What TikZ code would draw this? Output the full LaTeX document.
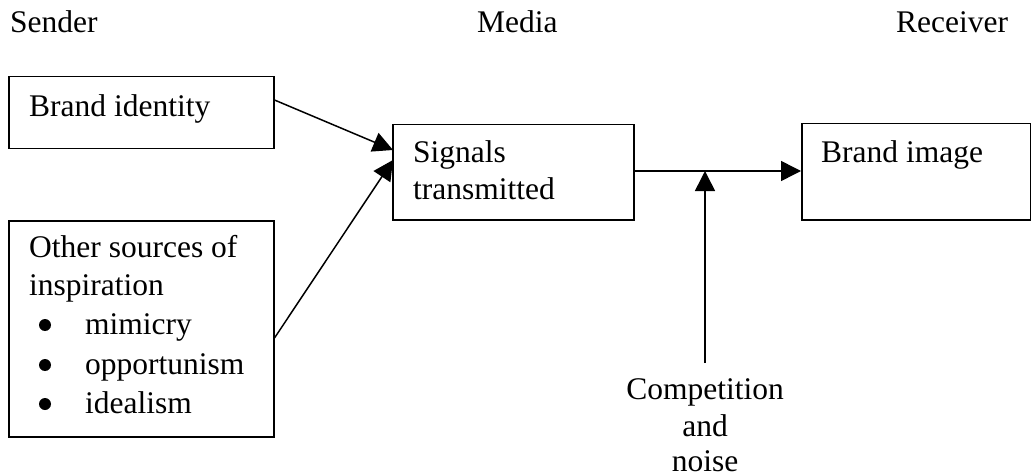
\documentclass[tikz,border=0pt]{standalone}
\usepackage{fontspec}
\setmainfont{Liberation Serif}
\usetikzlibrary{arrows.meta,calc}
\begin{document}
\begin{tikzpicture}[x=1pt,y=-1pt,
  box/.style={draw,line width=1.5pt,rectangle,inner sep=0pt,anchor=north west},
  txt/.style={anchor=base west,inner sep=0pt,font=\fontsize{31.5}{37}\selectfont},
  ctxt/.style={anchor=base,inner sep=0pt,font=\fontsize{31.5}{37}\selectfont},
  dot/.style={circle,fill,inner sep=0pt,minimum size=12pt},
  link/.style={line width=1.5pt,-{Triangle[length=20pt,width=20pt]}}]
\useasboundingbox (0,0) rectangle (1031,476);

% column headings
\node[txt] (hsend) at (10,33) {Sender};
\node[txt] (hmed) at (477,33) {Media};
\node[txt] (hrec) at (896,33) {Receiver};

% boxes
\node[box,minimum width=265pt,minimum height=72pt] (bi) at (8,76) {};
\node[box,minimum width=265pt,minimum height=216pt] (os) at (8,220) {};
\node[box,minimum width=241pt,minimum height=95pt] (sig) at (392,124) {};
\node[box,minimum width=229pt,minimum height=96pt] (img) at (801,123) {};

% box texts
\node[txt] (tbi) at (29,117) {Brand identity};
\node[txt] (tos1) at (29,257) {Other sources of};
\node[txt] (tos2) at (29,295) {inspiration};
\node[dot] (tb1) at (45,325) {};
\node[txt] (ti1) at (85,334) {mimicry};
\node[dot] (tb2) at (45,365) {};
\node[txt] (ti2) at (85,374) {opportunism};
\node[dot] (tb3) at (45,404) {};
\node[txt] (ti3) at (85,413) {idealism};
\node[txt] (tsig1) at (413,163) {Signals};
\node[txt] (tsig2) at (413,200) {transmitted};
\node[txt] (timg) at (821,163) {Brand image};

% noise source
\node[ctxt] (cn1) at (705,399) {Competition};
\node[ctxt] (cn2) at (705,436) {and};
\node[ctxt] (cn3) at (705,471) {noise};
\coordinate (nbot) at (705,363);
\coordinate (njoin) at (705,171);

% connectors
\draw[link] ($(bi.north east)+(0,24)$) -- ($(sig.north west)+(1,26)$);
\draw[link] ($(os.north east)+(0,118)$) -- ($(sig.north west)+(1,36)$);
\draw[link] (sig.east |- njoin) -- (img.west |- njoin);
\draw[link] (nbot) -- (njoin);
\end{tikzpicture}
\end{document}
